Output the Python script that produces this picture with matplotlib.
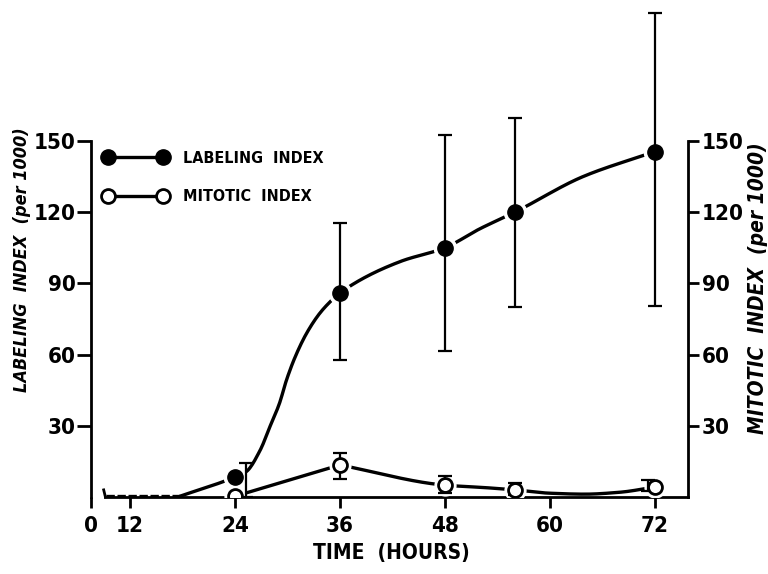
import numpy as np
import matplotlib
matplotlib.use("Agg")
import matplotlib.pyplot as plt
from matplotlib.lines import Line2D

plt.rcParams['font.family'] = ['DejaVu Sans Condensed', 'Liberation Sans Narrow', 'DejaVu Sans']
plt.rcParams['font.stretch'] = 'condensed'
plt.rcParams['font.weight'] = 'bold'

# ---- data ----
ZERO_POS = 7.6  # broken axis: hour 0 is drawn here
hour_ticks = [ZERO_POS, 12, 24, 36, 48, 60, 72]
hour_labels = ['0', '12', '24', '36', '48', '60', '72']
y_ticks = [30, 60, 90, 120, 150]

# labeling index (left axis)
lab_t = [24, 36, 48, 56, 72]
lab_v = [8.4, 86, 105, 120, 145.5]
lab_err_t = [25.3, 36, 48, 56, 72]
lab_err_lo = [8.4, 28.3, 43.5, 40, 65]
lab_err_hi = [6, 29.5, 47.5, 39.6, 58.3]
# hand drawn fit curve of labeling index
lab_curve_t = [17.7, 24, 25.3, 26.9, 28, 29.1, 29.9, 30.9, 32.2, 33.7, 34.9, 36,
               42.9, 48, 52, 56, 63.8, 72]
lab_curve_v = [0.3, 8.4, 10.7, 19.8, 29.6, 39.5, 49.3, 59.1, 69, 77.4, 82.3, 86,
               99.2, 105, 113, 120, 135, 145.5]
lab_early_t = [9.3, 17.7]
lab_early_v = [0.4, 0.4]

# mitotic index (right axis)
mit_t = [24, 36, 48, 56, 72]
mit_v = [0.3, 13.5, 5, 3.0, 4.2]
mit_err_t = [24, 36, 48, 56, 71.2]
mit_err_lo = [0, 6, 3.5, 2, 1.5]
mit_err_hi = [0, 5.2, 4, 2.8, 3]
mit_rise_t = [24, 36]
mit_rise_v = [0.3, 13.5]
mit_curve_t = [36, 48, 52.8, 56, 60, 64, 68, 72]
mit_curve_v = [13.5, 5, 3.9, 3.0, 1.6, 1.2, 2.0, 4.2]


def pchip(x, y, xn):
    x = np.asarray(x, float); y = np.asarray(y, float)
    h = np.diff(x); d = np.diff(y) / h
    m = np.zeros_like(y)
    m[0], m[-1] = d[0], d[-1]
    for k in range(1, len(x) - 1):
        if d[k - 1] * d[k] > 0:
            w1 = 2 * h[k] + h[k - 1]; w2 = h[k] + 2 * h[k - 1]
            m[k] = (w1 + w2) / (w1 / d[k - 1] + w2 / d[k])
    i = np.clip(np.searchsorted(x, xn) - 1, 0, len(x) - 2)
    s = (xn - x[i]) / h[i]
    h00 = 2 * s**3 - 3 * s**2 + 1; h10 = s**3 - 2 * s**2 + s
    h01 = -2 * s**3 + 3 * s**2; h11 = s**3 - s**2
    return h00 * y[i] + h10 * h[i] * m[i] + h01 * y[i + 1] + h11 * h[i] * m[i + 1]


fig = plt.figure(figsize=(7.68, 5.74), dpi=100)
ax = fig.add_axes([91/768, 1-497/574, (688-91)/768, 497/574])
ax.set_xlim(7.55, 75.8)
ax.set_ylim(0, 209.4)

lw = 2.4
tt = np.linspace(lab_curve_t[0], lab_curve_t[-1], 400)
ax.plot(tt, pchip(lab_curve_t, lab_curve_v, tt), color='k', lw=lw, zorder=2,
        solid_capstyle='round')
ax.plot(lab_early_t, lab_early_v, color='k', lw=lw, ls=(0, (2.5, 0.8)), zorder=2)
ax.plot(mit_rise_t, mit_rise_v, color='k', lw=lw, zorder=2)
tm = np.linspace(mit_curve_t[0], mit_curve_t[-1], 300)
ax.plot(tm, pchip(mit_curve_t, mit_curve_v, tm), color='k', lw=lw, zorder=2)

# white halos give the small gaps round the markers
ax.plot(lab_t, lab_v, 'o', color='white', ms=16, zorder=3)
ax.plot(mit_t, mit_v, 'o', color='white', ms=15, zorder=3)

ax.errorbar(lab_err_t, lab_v, yerr=[lab_err_lo, lab_err_hi], fmt='none',
            ecolor='k', elinewidth=1.6, capsize=5, capthick=1.6, zorder=4)
ax.errorbar(mit_err_t, mit_v, yerr=[mit_err_lo, mit_err_hi], fmt='none',
            ecolor='k', elinewidth=1.6, capsize=5, capthick=1.6, zorder=4)

ax.plot(lab_t, lab_v, 'o', color='k', ms=11, zorder=5)
ax.plot(mit_t, mit_v, 'o', mfc='white', mec='k', mew=2, ms=10, zorder=5)

# axes styling
for s in ['top', 'right']:
    ax.spines[s].set_visible(False)
ax.spines['left'].set_bounds(0, 150)
ax.spines['bottom'].set_bounds(9.2, 75.8)
ax.spines['left'].set_linewidth(2)
ax.spines['bottom'].set_linewidth(2)
ax.set_xticks(hour_ticks)
ax.set_xticklabels(hour_labels)
ax.set_yticks(y_ticks)
ax.tick_params(axis='x', direction='out', length=8, width=2, pad=6, labelsize=16)
ax.tick_params(axis='y', direction='out', length=10, width=2, pad=1, labelsize=16)

ax2 = ax.twinx()
ax2.set_ylim(ax.get_ylim())
for s in ['top', 'left', 'bottom']:
    ax2.spines[s].set_visible(False)
ax2.spines['right'].set_bounds(0, 150)
ax2.spines['right'].set_linewidth(2)
ax2.set_yticks(y_ticks)
ax2.tick_params(axis='y', direction='out', length=8, width=2, pad=2, labelsize=16)

# small break mark on the time axis
ax.plot([9.2, 9.0], [0, 3], color='k', lw=2, clip_on=False)

fig.text(391/768, 1-553/574, 'TIME  (HOURS)', ha='center', va='center', fontsize=15)
fig.text(22/768, 1-260/574, 'LABELING  INDEX  (per 1000)', rotation=90,
         ha='center', va='center', fontsize=13, style='italic')
fig.text(758/768, 1-288/574, 'MITOTIC  INDEX  (per 1000)', rotation=90,
         ha='center', va='center', fontsize=15, style='italic')

handles = [Line2D([], [], color='k', lw=lw, marker='o', ms=11),
           Line2D([], [], color='k', lw=lw, marker='o', ms=10, mfc='white', mew=2)]
ax.legend(handles, ['LABELING  INDEX', 'MITOTIC  INDEX'], numpoints=2,
          loc='upper left', bbox_to_anchor=(-0.003, 0.725), frameon=False,
          fontsize=11.5, handlelength=4, handletextpad=1.0, labelspacing=1.45)

fig.savefig('out.png', dpi=100)
